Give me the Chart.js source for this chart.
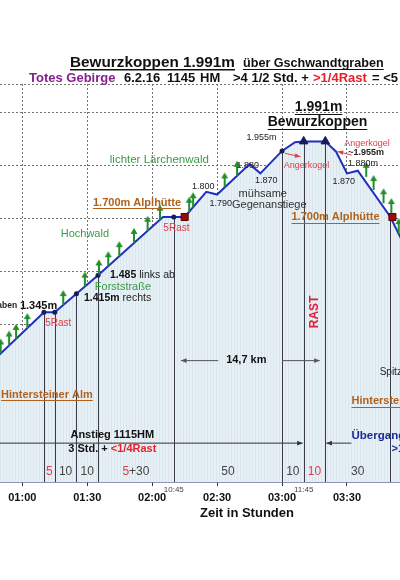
<!DOCTYPE html>
<html>
<head>
<meta charset="utf-8">
<script src="https://cdn.jsdelivr.net/npm/chart.js@4.4.1/dist/chart.umd.min.js"></script>
<style>
  html, body { margin: 0; padding: 0; background: #fff; }
  canvas { display: block; }
</style>
</head>
<body>
<canvas id="c" width="400" height="580"></canvas>
<script>
// Zeit ab Start (Minuten) und Hoehe (m)
const profTime = [10, 70, 75, 85, 95, 125, 130, 135, 145, 150, 165, 170, 180, 186, 190, 200, 205, 210, 215, 230, 240];
const profElev = [876, 1345, 1345, 1415, 1485, 1705, 1705, 1705, 1800, 1790, 1905, 1870, 1955, 1988, 1991, 1991, 1952, 1870, 1880, 1706, 1540];

// Wegpunkte
const dotTime = [70, 75, 85, 95, 130, 180];
const dotElev = [1345, 1345, 1415, 1485, 1705, 1955];
const topTime = [190, 200];
const topElev = [1991, 1991];
const hutTime = [135, 231];
const hutElev = [1705, 1705];

// gruene Pfeile (Anstieg)
const arrowTime = [50, 53.9, 57.1, 62.3, 78.9, 88.9, 95.4, 99.7, 104.8, 111.6, 117.9, 123.6, 137.1, 138.9, 153.5, 159.2, 218.9, 222.3, 226.9, 230.5, 233.9];
const arrowElev = [1189, 1219, 1244, 1285, 1372, 1442, 1488, 1519, 1557, 1607, 1653, 1695, 1725, 1742, 1817, 1861, 1857, 1807, 1757, 1720, 1644];

// Abschnitte: senkrechte Linien und Gehzeiten darunter
const dropTime = [70, 75, 85, 95, 130, 180, 190, 200, 230];
const segRest = ['5', '', '', '5', '', '', '10', ''];
const segWalk = ['', '10', '10', '+30', '50', '10', '', '30'];

const xTicks = [60, 90, 120, 150, 180, 210];
const clockTime = [130, 190];
const clockLabels = ['10:45', '11:45'];
const yGrid = [900, 1100, 1300, 1500, 1700, 1900, 2100, 2208];

const FONT = '"Liberation Sans", Arial, sans-serif';
const ctx = document.getElementById('c').getContext('2d');

function stripePattern() {
  const c = document.createElement('canvas');
  c.width = 3; c.height = 4;
  const g = c.getContext('2d');
  g.fillStyle = '#e7f0f5';
  g.fillRect(0, 0, 3, 4);
  g.fillStyle = '#dae6ed';
  g.fillRect(0, 0, 1, 4);
  return ctx.createPattern(c, 'repeat');
}

function arrowImage() {
  const c = document.createElement('canvas');
  c.width = 10; c.height = 32;
  const g = c.getContext('2d');
  g.fillStyle = '#1f8f2c';
  g.fillRect(4, 6, 2, 10);
  g.beginPath();
  g.moveTo(5, 1); g.lineTo(8.5, 7); g.lineTo(1.5, 7); g.closePath();
  g.fill();
  return c;
}

function pts(ts, es) {
  return ts.map((t, i) => ({ x: t, y: es[i] }));
}

function fmt(v) {
  const h = Math.floor(v / 60), m = v % 60;
  return String(h).padStart(2, '0') + ':' + String(m).padStart(2, '0');
}

function text(c, s, px, py, o) {
  c.font = (o.bold ? 'bold ' : '') + o.size + 'px ' + FONT;
  c.fillStyle = o.color || '#222';
  c.textAlign = o.align || 'center';
  c.textBaseline = o.base || 'middle';
  c.fillText(s, px, py);
  const w = c.measureText(s).width;
  if (o.under) {
    let x0 = px;
    if (c.textAlign === 'center') x0 = px - w / 2;
    if (c.textAlign === 'right') x0 = px - w;
    const uy = c.textBaseline === 'middle' ? py + o.size * 0.5 : py + 2;
    c.fillRect(x0, Math.round(uy), w, o.size > 14 ? 1.5 : 1);
  }
  return w;
}

function arrowLine(c, x1, y1, x2, y2, color) {
  c.save();
  c.strokeStyle = color; c.fillStyle = color; c.lineWidth = 1;
  c.beginPath(); c.moveTo(x1, y1); c.lineTo(x2, y2); c.stroke();
  const a = Math.atan2(y2 - y1, x2 - x1);
  c.beginPath();
  c.moveTo(x2, y2);
  c.lineTo(x2 - 6 * Math.cos(a - 0.4), y2 - 6 * Math.sin(a - 0.4));
  c.lineTo(x2 - 6 * Math.cos(a + 0.4), y2 - 6 * Math.sin(a + 0.4));
  c.closePath(); c.fill();
  c.restore();
}

const overlay = {
  id: 'overlay',
  afterDatasetDraw(chart, args) {
    if (args.index !== 4) return;
    const { ctx: c, chartArea, scales: { x, y } } = chart;
    c.save();
    c.strokeStyle = '#3a3a48';
    c.lineWidth = 1;
    dropTime.forEach(t => {
      const i = profTime.indexOf(t);
      const px = Math.round(x.getPixelForValue(t)) + 0.5;
      c.beginPath();
      c.moveTo(px, y.getPixelForValue(profElev[i]));
      c.lineTo(px, chartArea.bottom);
      c.stroke();
    });
    c.restore();
  },
  afterDraw(chart) {
    const { ctx: c, chartArea, scales: { x, y } } = chart;
    const P = (t, e) => [x.getPixelForValue(t), y.getPixelForValue(e)];
    const T = (s, t, e, o) => { const p = P(t, e); return text(c, s, p[0], p[1], o); };
    c.save();

    // Kopfzeilen
    text(c, 'Bewurzkoppen 1.991m', 70, 66.5, { size: 15.3, bold: true, align: 'left', base: 'alphabetic', under: true, color: '#111' });
    text(c, 'über Gschwandtgraben', 243, 66.5, { size: 12.6, bold: true, align: 'left', base: 'alphabetic', under: true, color: '#111' });
    text(c, 'Totes Gebirge', 29, 81.5, { size: 13, bold: true, align: 'left', base: 'alphabetic', color: '#86208f' });
    text(c, '6.2.16', 124, 81.5, { size: 13, bold: true, align: 'left', base: 'alphabetic', color: '#111' });
    text(c, '1145', 167, 81.5, { size: 13, bold: true, align: 'left', base: 'alphabetic', color: '#111' });
    text(c, 'HM', 200, 81.5, { size: 13, bold: true, align: 'left', base: 'alphabetic', color: '#111' });
    text(c, '>4 1/2 Std. +', 233, 81.5, { size: 13, bold: true, align: 'left', base: 'alphabetic', color: '#111' });
    text(c, '>1/4Rast', 313, 81.5, { size: 13, bold: true, align: 'left', base: 'alphabetic', color: '#e8202a' });
    text(c, '= <5', 372, 81.5, { size: 13, bold: true, align: 'left', base: 'alphabetic', color: '#111' });

    // Gipfel
    T('1.991m', 196.9, 2122, { size: 14, bold: true, under: true, color: '#111' });
    T('Bewurzkoppen', 196.4, 2065, { size: 14, bold: true, under: true, color: '#111' });
    T('1.955m', 170.5, 2007, { size: 9, color: '#222' });
    T('Angerkogel', 191.3, 1901, { size: 9, color: '#d9404a' });
    T('Angerkogel', 219.3, 1984, { size: 9, color: '#d9404a' });
    T('~1.955m', 218.9, 1950, { size: 9, bold: true, color: '#222' });
    T('1.880m', 217.4, 1908, { size: 9, color: '#222' });
    T('1.870', 208.5, 1838, { size: 9, color: '#222' });
    T('1.880', 164.2, 1899, { size: 9, color: '#222' });
    T('1.870', 172.7, 1842, { size: 9, color: '#222' });
    T('1.800', 143.6, 1819, { size: 9, color: '#222' });
    T('1.790', 151.7, 1757, { size: 9, color: '#222' });
    T('mühsame', 171.1, 1792, { size: 11, color: '#333' });
    T('Gegenanstiege', 174.1, 1752, { size: 11, color: '#333' });
    let a = P(181.3, 1946), b = P(188.5, 1933);
    arrowLine(c, a[0], a[1], b[0], b[1], '#d9404a');
    a = P(212.2, 1939); b = P(205.7, 1953);
    arrowLine(c, a[0], a[1], b[0], b[1], '#d9404a');

    // Anstieg
    T('lichter Lärchenwald', 123.3, 1920, { size: 11.5, color: '#3a9a45' });
    T('1.700m Alplhütte', 113, 1759, { size: 11, bold: true, under: true, color: '#b0621c' });
    T('5Rast', 131.2, 1664, { size: 10, color: '#d9404a' });
    T('Hochwald', 88.9, 1641, { size: 11, color: '#3a9a45' });
    T('Gschwandtgraben', 57.6, 1368, { size: 8.5, bold: true, align: 'right', color: '#222' });
    T('1.345m', 58.9, 1370, { size: 11, bold: true, align: 'left', color: '#111' });
    T('5Rast', 76.6, 1305, { size: 10, color: '#d9404a' });
    let p = P(100.5, 1486);
    let w = text(c, '1.485', p[0], p[1], { size: 10.5, bold: true, align: 'left', color: '#111' });
    text(c, 'links ab', p[0] + w + 3, p[1], { size: 10.5, align: 'left', color: '#222' });
    T('Forststraße', 106.5, 1439, { size: 11, color: '#3a9a45' });
    p = P(88.5, 1400);
    w = text(c, '1.415m', p[0], p[1], { size: 10.5, bold: true, align: 'left', color: '#111' });
    text(c, 'rechts', p[0] + w + 3, p[1], { size: 10.5, align: 'left', color: '#222' });
    T('1.700m Alplhütte', 204.7, 1704, { size: 11, bold: true, under: true, color: '#b0621c' });

    // unterer Bereich
    T('Hintersteiner Alm', 50.2, 1032, { size: 11, bold: true, under: true, align: 'left', color: '#b0621c' });
    T('Hintersteiner Alm', 212.1, 1009, { size: 11, bold: true, under: true, align: 'left', color: '#b0621c' });
    T('Spitz', 225.1, 1119, { size: 10, align: 'left', color: '#222' });
    T('14,7 km', 163.5, 1166, { size: 11, bold: true, color: '#111' });
    a = P(150.5, 1162); b = P(133.3, 1162);
    arrowLine(c, a[0], a[1], b[0], b[1], '#555');
    a = P(180, 1162); b = P(197.4, 1162);
    arrowLine(c, a[0], a[1], b[0], b[1], '#555');

    const rp = P(195, 1346);
    c.save();
    c.translate(rp[0], rp[1]);
    c.rotate(-Math.PI / 2);
    text(c, 'RAST', 0, 0, { size: 12, bold: true, color: '#e0203a' });
    c.restore();

    a = P(190, 850);
    arrowLine(c, chartArea.left, a[1], a[0] - 1, a[1], '#333');
    a = P(212, 850); b = P(200, 850);
    arrowLine(c, a[0], a[1], b[0] + 1, b[1], '#333');

    T('Anstieg 1115HM', 101.6, 881, { size: 11, bold: true, color: '#111' });
    const l2 = P(101.6, 827);
    c.font = 'bold 11px ' + FONT;
    const w1 = c.measureText('3 Std. + ').width, w2 = c.measureText('<1/4Rast').width;
    const x0 = l2[0] - (w1 + w2) / 2;
    text(c, '3 Std. + ', x0, l2[1], { size: 11, bold: true, align: 'left', color: '#111' });
    text(c, '<1/4Rast', x0 + w1, l2[1], { size: 11, bold: true, align: 'left', color: '#e8202a' });
    T('Übergang', 212.1, 877, { size: 11.5, bold: true, align: 'left', color: '#1a2a9a' });
    T('>1', 230.6, 827, { size: 11, bold: true, align: 'left', color: '#1a2a9a' });

    // Gehzeiten je Abschnitt
    for (let i = 0; i < segRest.length; i++) {
      const mid = x.getPixelForValue((dropTime[i] + dropTime[i + 1]) / 2);
      const py = y.getPixelForValue(741);
      c.font = '12px ' + FONT;
      const wr = c.measureText(segRest[i]).width, ww = c.measureText(segWalk[i]).width;
      const sx = mid - (wr + ww) / 2;
      text(c, segRest[i], sx, py, { size: 12, align: 'left', color: '#d9404a' });
      text(c, segWalk[i], sx + wr, py, { size: 12, align: 'left', color: '#444' });
    }

    // Uhrzeiten
    clockTime.forEach((t, i) => {
      text(c, clockLabels[i], x.getPixelForValue(t), chartArea.bottom + 7.5, { size: 8, color: '#444' });
    });

    text(c, 'Zeit in Stunden', 247, 513, { size: 13, bold: true, color: '#111' });
    c.restore();
  }
};

new Chart(ctx, {
  type: 'line',
  data: {
    datasets: [
      {
        data: pts(arrowTime, arrowElev),
        showLine: false,
        pointStyle: arrowImage(),
        pointRadius: 6
      },
      {
        data: pts(hutTime, hutElev),
        showLine: false,
        pointStyle: 'rect',
        pointRadius: 5,
        backgroundColor: '#9b0a0a',
        borderColor: '#5a0000',
        borderWidth: 1
      },
      {
        data: pts(topTime, topElev),
        showLine: false,
        pointStyle: 'triangle',
        pointRadius: 5,
        backgroundColor: '#1a1a5e',
        borderColor: '#1a1a5e',
        borderWidth: 1
      },
      {
        data: pts(dotTime, dotElev),
        showLine: false,
        pointStyle: 'circle',
        pointRadius: 2.5,
        backgroundColor: '#1a1a5e',
        borderWidth: 0
      },
      {
        data: pts(profTime, profElev),
        borderColor: '#1f2fc0',
        borderWidth: 2,
        pointRadius: 0,
        tension: 0,
        fill: 'start',
        backgroundColor: stripePattern()
      }
    ]
  },
  options: {
    responsive: false,
    animation: false,
    devicePixelRatio: 1,
    layout: { autoPadding: false, padding: { top: 84, left: 0, right: 0, bottom: 0 } },
    plugins: {
      legend: { display: false },
      tooltip: { enabled: false },
      title: { display: false }
    },
    scales: {
      x: {
        type: 'linear',
        min: 49.7,
        max: 234.5,
        afterBuildTicks: s => { s.ticks = xTicks.map(v => ({ value: v })); },
        afterFit: s => { s.height = 98; s.paddingLeft = 0; s.paddingRight = 0; },
        grid: { color: '#707070', lineWidth: 1, tickLength: 4, tickColor: '#333', tickWidth: 1 },
        border: { display: true, color: '#2a2a70', width: 1.5, dash: [2, 2] },
        ticks: {
          autoSkip: false,
          maxRotation: 0,
          padding: 5,
          color: '#111',
          font: { family: FONT, size: 11, weight: 'bold' },
          callback: v => fmt(v)
        }
      },
      y: {
        type: 'linear',
        min: 703,
        max: 2208,
        afterBuildTicks: s => { s.ticks = yGrid.map(v => ({ value: v })); },
        afterFit: s => { s.width = 0; s.paddingTop = 0; s.paddingBottom = 0; },
        grid: { color: '#707070', lineWidth: 1, drawTicks: false },
        border: { display: false, dash: [2, 2] },
        ticks: { display: false }
      }
    }
  },
  plugins: [overlay]
});
</script>
</body>
</html>
